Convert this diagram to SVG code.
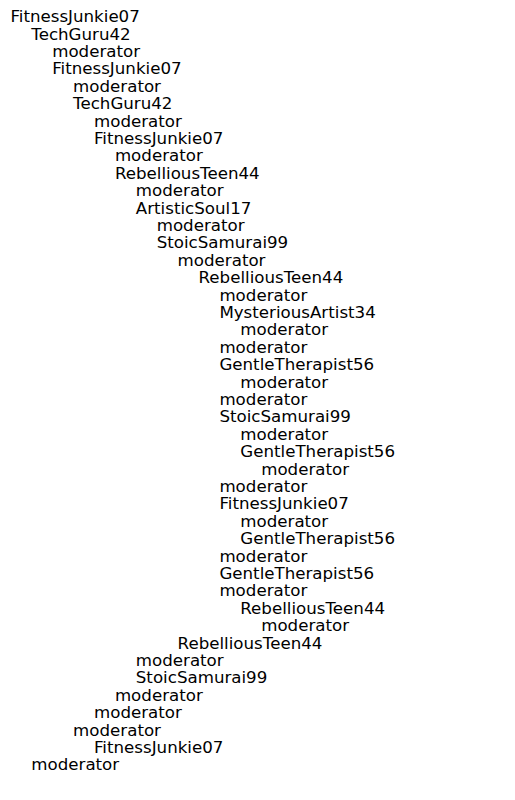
<svg xmlns="http://www.w3.org/2000/svg" width="515" height="800" viewBox="0 0 515 800">
<style>
text{font-family:"DejaVu Sans",sans-serif;font-size:16.67px;fill:#000}
</style>
<rect width="515" height="800" fill="#fff"/>
<g id="connectors"></g>
<g id="n1"><text x="10.4" y="22.2">FitnessJunkie07</text></g>
<g id="n2"><text x="31.3" y="39.6">TechGuru42</text></g>
<g id="n3"><text x="52.2" y="57">moderator</text></g>
<g id="n4"><text x="52.2" y="74.4">FitnessJunkie07</text></g>
<g id="n5"><text x="73.1" y="91.8">moderator</text></g>
<g id="n6"><text x="73.1" y="109.2">TechGuru42</text></g>
<g id="n7"><text x="94" y="126.6">moderator</text></g>
<g id="n8"><text x="94" y="144">FitnessJunkie07</text></g>
<g id="n9"><text x="114.9" y="161.4">moderator</text></g>
<g id="n10"><text x="114.9" y="178.8">RebelliousTeen44</text></g>
<g id="n11"><text x="135.8" y="196.2">moderator</text></g>
<g id="n12"><text x="135.8" y="213.6">ArtisticSoul17</text></g>
<g id="n13"><text x="156.7" y="231">moderator</text></g>
<g id="n14"><text x="156.7" y="248.4">StoicSamurai99</text></g>
<g id="n15"><text x="177.6" y="265.8">moderator</text></g>
<g id="n16"><text x="198.5" y="283.2">RebelliousTeen44</text></g>
<g id="n17"><text x="219.4" y="300.6">moderator</text></g>
<g id="n18"><text x="219.4" y="318">MysteriousArtist34</text></g>
<g id="n19"><text x="240.3" y="335.4">moderator</text></g>
<g id="n20"><text x="219.4" y="352.8">moderator</text></g>
<g id="n21"><text x="219.4" y="370.2">GentleTherapist56</text></g>
<g id="n22"><text x="240.3" y="387.6">moderator</text></g>
<g id="n23"><text x="219.4" y="405">moderator</text></g>
<g id="n24"><text x="219.4" y="422.4">StoicSamurai99</text></g>
<g id="n25"><text x="240.3" y="439.8">moderator</text></g>
<g id="n26"><text x="240.3" y="457.2">GentleTherapist56</text></g>
<g id="n27"><text x="261.2" y="474.6">moderator</text></g>
<g id="n28"><text x="219.4" y="492">moderator</text></g>
<g id="n29"><text x="219.4" y="509.4">FitnessJunkie07</text></g>
<g id="n30"><text x="240.3" y="526.8">moderator</text></g>
<g id="n31"><text x="240.3" y="544.2">GentleTherapist56</text></g>
<g id="n32"><text x="219.4" y="561.6">moderator</text></g>
<g id="n33"><text x="219.4" y="579">GentleTherapist56</text></g>
<g id="n34"><text x="219.4" y="596.4">moderator</text></g>
<g id="n35"><text x="240.3" y="613.8">RebelliousTeen44</text></g>
<g id="n36"><text x="261.2" y="631.2">moderator</text></g>
<g id="n37"><text x="177.6" y="648.6">RebelliousTeen44</text></g>
<g id="n38"><text x="135.8" y="666">moderator</text></g>
<g id="n39"><text x="135.8" y="683.4">StoicSamurai99</text></g>
<g id="n40"><text x="114.9" y="700.8">moderator</text></g>
<g id="n41"><text x="94" y="718.2">moderator</text></g>
<g id="n42"><text x="73.1" y="735.6">moderator</text></g>
<g id="n43"><text x="94" y="753">FitnessJunkie07</text></g>
<g id="n44"><text x="31.3" y="770.4">moderator</text></g>
</svg>
